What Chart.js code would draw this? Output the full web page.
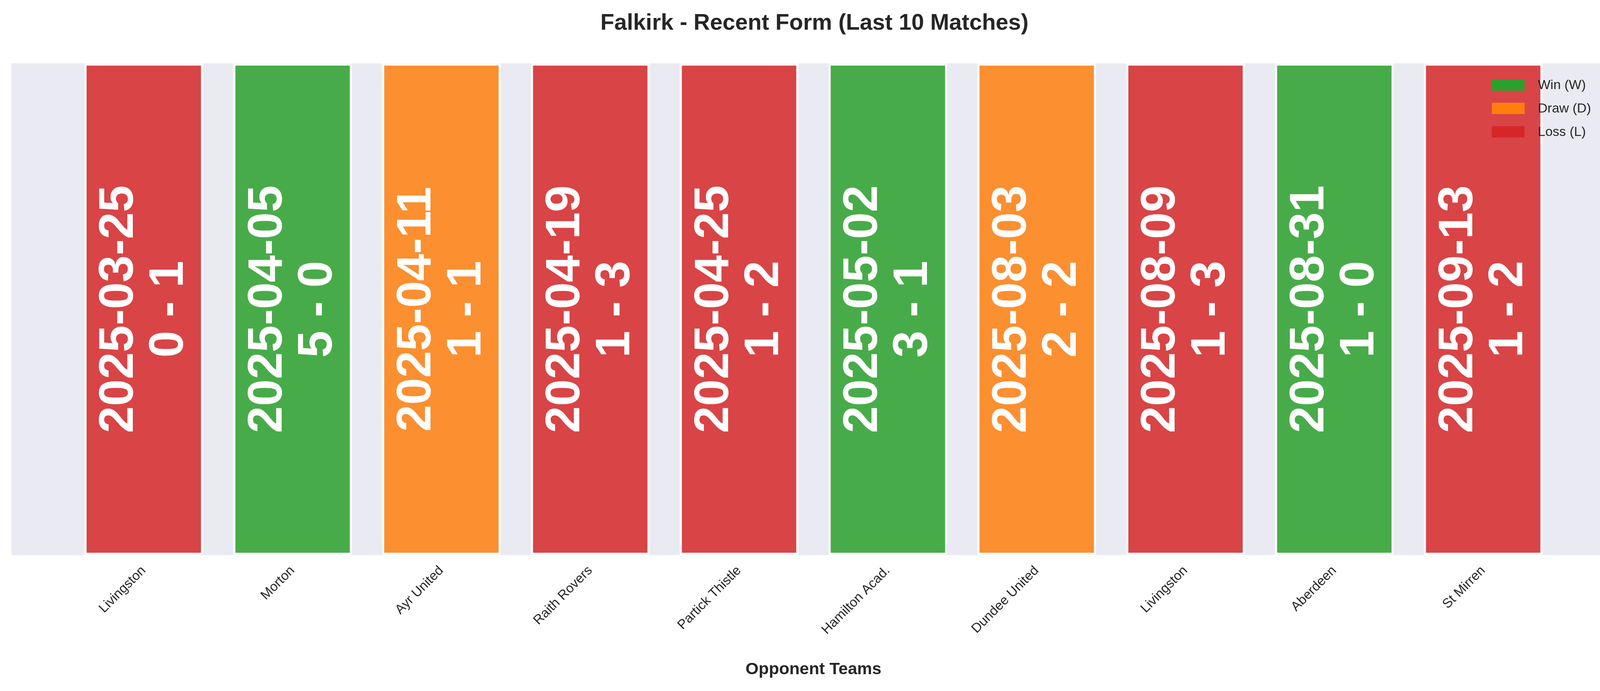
<!DOCTYPE html>
<html><head><meta charset="utf-8">
<script src="https://cdn.jsdelivr.net/npm/chart.js@4"></script>
<style>html,body{margin:0;padding:0;background:#fff}</style>
</head><body>
<canvas id="c" width="4170" height="1769" style="width:4170px;height:1769px"></canvas>
<script>
const teams = ["Livingston","Morton","Ayr United","Raith Rovers","Partick Thistle","Hamilton Acad.","Dundee United","Livingston","Aberdeen","St Mirren"];
const dates = ["2025-03-25","2025-04-05","2025-04-11","2025-04-19","2025-04-25","2025-05-02","2025-08-03","2025-08-09","2025-08-31","2025-09-13"];
const scores = ["0 - 1","5 - 0","1 - 1","1 - 3","1 - 2","3 - 1","2 - 2","1 - 3","1 - 0","1 - 2"];
const results = ["L","W","D","L","L","W","D","L","W","L"];
const heights = [1,1,1,1,1,1,1,1,1,1];
const colorMap = {W:"#2ca02c", D:"#ff7f0e", L:"#d62728"};
const fillMap = {W:"rgba(44,160,44,0.85)", D:"rgba(255,127,14,0.85)", L:"rgba(214,39,40,0.85)"};
const legendItems = [["Win (W)","W"],["Draw (D)","D"],["Loss (L)","L"]];
const F = "'Liberation Sans', Arial, sans-serif";

const bgPlugin = {
  id:"bg",
  beforeDraw(chart){
    const {ctx, chartArea:a} = chart;
    ctx.save(); ctx.fillStyle="#EAEAF2"; ctx.fillRect(a.left,a.top,a.right-a.left,a.bottom-a.top); ctx.restore();
  },
  afterDraw(chart){
    const {ctx, chartArea:a} = chart;
    const meta = chart.getDatasetMeta(0);
    ctx.save();
    // bar labels
    meta.data.forEach((bar,i)=>{
      const cy = (a.top+a.bottom)/2;
      ctx.save();
      ctx.translate(bar.x, cy);
      ctx.rotate(-Math.PI/2);
      ctx.fillStyle="#fff"; ctx.font="bold 124px "+F;
      ctx.textAlign="center"; ctx.textBaseline="middle";
      ctx.fillText(dates[i], 0, -62);
      ctx.fillText(scores[i], 0, 66);
      ctx.restore();
    });
    // title
    ctx.fillStyle="#262626"; ctx.textAlign="center"; ctx.textBaseline="middle";
    ctx.font="bold 58px "+F;
    ctx.fillText("Falkirk - Recent Form (Last 10 Matches)", chart.width/2, 60);
    ctx.font="bold 43px "+F;
    ctx.fillText("Opponent Teams", (a.left+a.right)/2, 1714);
    // legend
    legendItems.forEach(([lab,k],j)=>{
      const y = 203 + j*60;
      ctx.fillStyle=colorMap[k];
      ctx.fillRect(3819, y, 84, 29);
      ctx.fillStyle="#262626"; ctx.textAlign="left"; ctx.font="34px "+F;
      ctx.fillText(lab, 3937, y+16);
    });
    ctx.restore();
  }
};

new Chart(document.getElementById("c"), {
  type:"bar",
  data:{ datasets:[{
    data: heights.map((h,i)=>({x:i,y:h})),
    backgroundColor: results.map(r=>fillMap[r]),
    borderColor: results.map(r=>"rgba(255,255,255,0.8)"),
    borderWidth: 6,
    barPercentage: 1.0, categoryPercentage: 0.8,
    borderSkipped: false
  }]},
  options:{
    responsive:false, animation:false, devicePixelRatio:1,
    layout:{padding:{top:162,left:29,right:34,bottom:0}},
    plugins:{legend:{display:false}, tooltip:{enabled:false}},
    scales:{
      x:{type:"linear", min:-0.89, max:9.89, offset:false,
        grid:{display:false}, border:{display:false},
        afterBuildTicks(s){ s.ticks = teams.map((t,i)=>({value:i})); },
        afterFit(s){ s.height = 348; },
        ticks:{ autoSkip:false, maxRotation:45, minRotation:45, color:"#262626",
          font:{family:F, size:34}, padding:12,
          callback:(v)=>teams[v] }
      },
      y:{min:0,max:1,display:false}
    }
  },
  plugins:[bgPlugin]
});
</script>
</body></html>
